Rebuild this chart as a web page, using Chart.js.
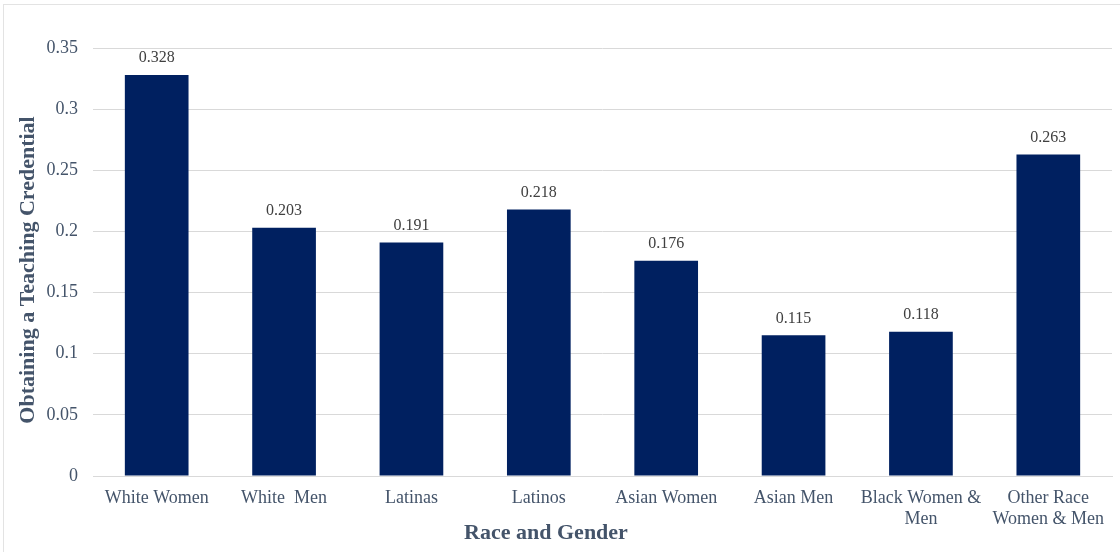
<!DOCTYPE html>
<html>
<head>
<meta charset="utf-8">
<script src="https://cdn.jsdelivr.net/npm/chart.js@4/dist/chart.umd.min.js"></script>
<style>
  body { margin: 0; background: #fff; }
  #wrap { position: relative; width: 1120px; height: 552px; overflow: hidden; }
  #frame { position: absolute; left: 3px; top: 4px; width: 1200px; height: 600px; border: 1px solid #e3e3e3; }
  canvas { position: absolute; left: 0; top: 0; }
</style>
</head>
<body>
<div id="wrap">
  <div id="frame"></div>
  <canvas id="chart" width="1120" height="552"></canvas>
</div>
<script>
//categories along the x axis
const categories = [
    'White Women',
    'White  Men',
    'Latinas',
    'Latinos',
    'Asian Women',
    'Asian Men',
    ['Black Women &', 'Men'],
    ['Other Race', 'Women & Men'],
];

//share obtaining a teaching credential
const credentialValues = [0.328, 0.203, 0.191, 0.218, 0.176, 0.115, 0.118, 0.263];

//y axis tick labels, bottom to top
const yTickLabels = ['0', '0.05', '0.1', '0.15', '0.2', '0.25', '0.3', '0.35'];

const xTitle = 'Race and Gender';
const yTitle = 'Obtaining a Teaching Credential';

const TEXT_COLOR = '#44546a';
const FONT = '"Liberation Serif", "Times New Roman", serif';

//writes the value above each bar and the two axis titles
const extraText = {
    id: 'extraText',
    afterDatasetsDraw(chart) {
        const ctx = chart.ctx;
        const meta = chart.getDatasetMeta(0);
        ctx.save();
        ctx.font = `16px ${FONT}`;
        ctx.fillStyle = '#404040';
        ctx.textAlign = 'center';
        ctx.textBaseline = 'bottom';
        meta.data.forEach((bar, i) => {
            ctx.fillText(credentialValues[i].toFixed(3), bar.x, bar.y - 9);
        });

        //axis titles, placed like the original (x title is centered on the whole chart)
        ctx.font = `bold 22px ${FONT}`;
        ctx.fillStyle = TEXT_COLOR;
        ctx.textBaseline = 'middle';
        ctx.fillText(xTitle, 546, 533);

        ctx.translate(28, 270);
        ctx.rotate(-Math.PI / 2);
        ctx.fillText(yTitle, 0, 0);
        ctx.restore();
    },
};

new Chart(document.getElementById('chart'), {
    type: 'bar',
    data: {
        labels: categories,
        datasets: [
            {
                data: credentialValues,
                backgroundColor: '#002060',
                categoryPercentage: 1,
                barPercentage: 0.5,
            },
        ],
    },
    options: {
        responsive: false,
        animation: false,
        layout: {
            padding: { top: 48, right: 8, left: 0, bottom: 0 },
        },
        plugins: {
            legend: { display: false },
            tooltip: { enabled: false },
        },
        scales: {
            x: {
                grid: { display: false, drawTicks: false },
                border: { display: true, color: '#d9d9d9', width: 1 },
                ticks: {
                    color: TEXT_COLOR,
                    font: { family: FONT, size: 18 },
                    padding: 11,
                    maxRotation: 0,
                    autoSkip: false,
                },
                afterFit: (scale) => {
                    scale.height = 76;
                },
            },
            y: {
                min: 0,
                max: 0.35,
                grid: { color: '#d9d9d9', drawTicks: false },
                border: { display: false },
                ticks: {
                    stepSize: 0.05,
                    color: TEXT_COLOR,
                    font: { family: FONT, size: 18 },
                    padding: 15,
                    callback: (value, index) => yTickLabels[index],
                },
                afterFit: (scale) => {
                    scale.width = 93;
                },
            },
        },
    },
    plugins: [extraText],
});
</script>
</body>
</html>
